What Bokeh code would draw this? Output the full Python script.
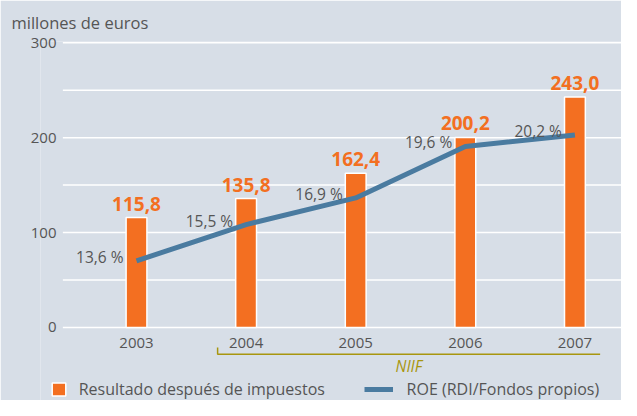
from bokeh.plotting import figure
from bokeh.models import Range1d, FixedTicker, ColumnDataSource, Legend, LegendItem
from bokeh.core.properties import value
from bokeh.embed import file_html
from bokeh.resources import INLINE

# ---- data ----
years = [2003, 2004, 2005, 2006, 2007]
resultado = [115.8, 135.8, 162.4, 200.2, 243.0]
roe = [13.6, 15.5, 16.9, 19.6, 20.2]
y_ticks = [0, 100, 200, 300]
y_grid = [0, 50, 100, 150, 200, 250, 300]
niif_years = [2004, 2007]

def fmt(v, suffix=""):
    return f"{v:.1f}".replace(".", ",") + suffix

src = ColumnDataSource(dict(
    x=years, res=resultado, roe=roe,
    res_lbl=[fmt(v) for v in resultado],
    roe_lbl=[fmt(v, " %") for v in roe],
))

FONT = "Open Sans"
GRAY = "#555555"
ORANGE = "#f36f21"
BLUE = "#4a7ba0"
OLIVE = "#a8960f"
BG = "#d7dee7"

X_START, X_END = 2002.124, 2007.425
GRID_START = 2002.328

p = figure(width=621, height=400, output_backend="svg", toolbar_location=None,
           x_range=Range1d(X_START, X_END), y_range=Range1d(-77.05, 301.4),
           min_border_left=40, min_border_right=0, min_border_bottom=0, min_border_top=41,
           background_fill_color=BG, border_fill_color=BG, outline_line_color=None)

p.extra_y_ranges = {"roe": Range1d(6.278, 25.10)}

# title
p.title.text = "millones de euros"
p.title.text_font = FONT
p.title.text_font_size = "16.5px"
p.title.text_font_style = "normal"
p.title.text_color = GRAY
p.title.align = "left"
p.title.offset = -29
p.title.standoff = 16

# axes
p.xaxis.ticker = FixedTicker(ticks=years)
p.xaxis.fixed_location = 0
p.xaxis.axis_line_color = None
p.xaxis.major_tick_line_color = None
p.xaxis.minor_tick_line_color = None
p.xaxis.major_label_standoff = 5
p.xaxis.major_label_text_font = FONT
p.xaxis.major_label_text_font_size = "15px"
p.xaxis.major_label_text_color = GRAY

p.yaxis.ticker = FixedTicker(ticks=y_ticks)
p.yaxis.axis_line_color = None
p.yaxis.major_tick_line_color = None
p.yaxis.minor_tick_line_color = None
p.yaxis.major_tick_out = 0
p.yaxis.major_tick_in = 0
p.yaxis.major_label_standoff = -16
p.yaxis.major_label_text_font = FONT
p.yaxis.major_label_text_font_size = "15px"
p.yaxis.major_label_text_color = GRAY

p.xgrid.visible = False
p.ygrid.visible = False
# horizontal grid lines starting at the value axis
p.segment(x0=[GRID_START] * len(y_grid), x1=[X_END] * len(y_grid), y0=y_grid, y1=y_grid,
          line_color="white", line_width=1.5)

# bars
bars = p.vbar(x="x", top="res", width=0.19, source=src, fill_color=ORANGE,
              line_color="white", line_width=1.5)
p.text(x="x", y="res", text="res_lbl", source=src, text_align="center",
       text_baseline="middle", y_offset=-14, text_color=ORANGE,
       text_font=value(FONT), text_font_size="19px", text_font_style="bold")

# ROE line
line = p.line(x="x", y="roe", source=src, y_range_name="roe", line_color=BLUE, line_width=5)
p.text(x="x", y="roe", text="roe_lbl", source=src, y_range_name="roe",
       text_align="right", text_baseline="middle", x_offset=-13, y_offset=-4,
       text_color=GRAY, text_font=value(FONT), text_font_size="15.5px")

# NIIF bracket
x0 = niif_years[0] - 0.26
x1 = niif_years[1] + 0.23
p.line(x=[x0, x0, x1], y=[-21.3, -28.4, -28.4], line_color=OLIVE, line_width=1.5)
p.text(x=[(x0 + x1) / 2], y=[-40.6], text=["NIIF"], text_align="center",
       text_baseline="middle", text_color=OLIVE, text_font=value(FONT),
       text_font_size="15.5px", text_font_style="italic")

# legends
common = dict(orientation="horizontal", padding=0, margin=0, border_line_color=None,
              background_fill_alpha=0, label_text_font=FONT, label_text_font_size="16px",
              label_text_color=GRAY, glyph_height=16, spacing=0)
leg1 = Legend(items=[LegendItem(label="Resultado después de impuestos", renderers=[bars])],
              location=(9.7, 0), glyph_width=17, label_standoff=12, **common)
leg2 = Legend(items=[LegendItem(label="ROE (RDI/Fondos propios)", renderers=[line])],
              location=(323.6, 0), glyph_width=29, label_standoff=14, **common)
p.add_layout(leg1)
p.add_layout(leg2)

open("out.html", "w").write(file_html(p, INLINE))
